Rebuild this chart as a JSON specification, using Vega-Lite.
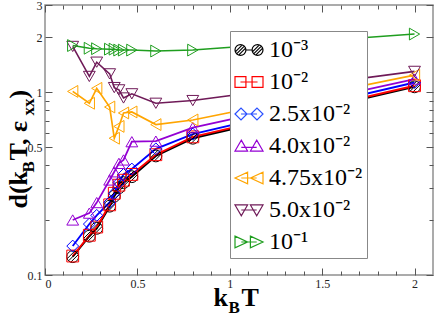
{
  "$schema": "https://vega.github.io/schema/vega-lite/v6.json",
  "width": 388,
  "height": 270,
  "autosize": {"type": "none"},
  "padding": {"left": 45, "top": 5, "right": 3, "bottom": 40},
  "background": "white",
  "config": {
    "view": {"stroke": "#909090", "strokeWidth": 1.5},
    "font": "Liberation Serif",
    "axis": {
      "grid": false, "domain": false, "tickColor": "#555", "tickWidth": 1,
      "labelFont": "Liberation Serif", "labelFontSize": 12, "labelColor": "#222",
      "titleFont": "Liberation Serif", "titleFontWeight": "bold", "titleColor": "black", "titleFontSize": 26,
      "titleAlign": "left", "titleBaseline": "alphabetic"
    },
    "legend": {"labelFont": "Liberation Serif", "labelFontSize": 24, "labelColor": "black"}
  },
  "datasets": {
    "d": [
      {"eps": "10⁻³", "T": 0.15, "d": 0.126}, {"eps": "10⁻³", "T": 0.24, "d": 0.163}, {"eps": "10⁻³", "T": 0.28, "d": 0.18}, {"eps": "10⁻³", "T": 0.35, "d": 0.238}, {"eps": "10⁻³", "T": 0.375, "d": 0.27}, {"eps": "10⁻³", "T": 0.4, "d": 0.3}, {"eps": "10⁻³", "T": 0.425, "d": 0.32}, {"eps": "10⁻³", "T": 0.47, "d": 0.345}, {"eps": "10⁻³", "T": 0.6, "d": 0.448}, {"eps": "10⁻³", "T": 0.8, "d": 0.56}, {"eps": "10⁻³", "T": 2.0, "d": 1.07},
      {"eps": "10⁻²", "T": 0.15, "d": 0.127}, {"eps": "10⁻²", "T": 0.24, "d": 0.165}, {"eps": "10⁻²", "T": 0.28, "d": 0.183}, {"eps": "10⁻²", "T": 0.35, "d": 0.242}, {"eps": "10⁻²", "T": 0.375, "d": 0.28}, {"eps": "10⁻²", "T": 0.4, "d": 0.31}, {"eps": "10⁻²", "T": 0.425, "d": 0.33}, {"eps": "10⁻²", "T": 0.47, "d": 0.355}, {"eps": "10⁻²", "T": 0.6, "d": 0.455}, {"eps": "10⁻²", "T": 0.8, "d": 0.57}, {"eps": "10⁻²", "T": 2.0, "d": 1.085},
      {"eps": "2.5x10⁻²", "T": 0.15, "d": 0.144}, {"eps": "2.5x10⁻²", "T": 0.24, "d": 0.19}, {"eps": "2.5x10⁻²", "T": 0.28, "d": 0.212}, {"eps": "2.5x10⁻²", "T": 0.35, "d": 0.25}, {"eps": "2.5x10⁻²", "T": 0.375, "d": 0.28}, {"eps": "2.5x10⁻²", "T": 0.4, "d": 0.32}, {"eps": "2.5x10⁻²", "T": 0.425, "d": 0.355}, {"eps": "2.5x10⁻²", "T": 0.47, "d": 0.38}, {"eps": "2.5x10⁻²", "T": 0.6, "d": 0.49}, {"eps": "2.5x10⁻²", "T": 0.8, "d": 0.59}, {"eps": "2.5x10⁻²", "T": 2.0, "d": 1.13},
      {"eps": "4.0x10⁻²", "T": 0.15, "d": 0.2}, {"eps": "4.0x10⁻²", "T": 0.24, "d": 0.218}, {"eps": "4.0x10⁻²", "T": 0.28, "d": 0.249}, {"eps": "4.0x10⁻²", "T": 0.35, "d": 0.331}, {"eps": "4.0x10⁻²", "T": 0.375, "d": 0.367}, {"eps": "4.0x10⁻²", "T": 0.4, "d": 0.408}, {"eps": "4.0x10⁻²", "T": 0.425, "d": 0.426}, {"eps": "4.0x10⁻²", "T": 0.47, "d": 0.536}, {"eps": "4.0x10⁻²", "T": 0.6, "d": 0.54}, {"eps": "4.0x10⁻²", "T": 0.8, "d": 0.64}, {"eps": "4.0x10⁻²", "T": 2.0, "d": 1.18},
      {"eps": "4.75x10⁻²", "T": 0.15, "d": 1.01}, {"eps": "4.75x10⁻²", "T": 0.24, "d": 0.87}, {"eps": "4.75x10⁻²", "T": 0.28, "d": 1.05}, {"eps": "4.75x10⁻²", "T": 0.35, "d": 0.83}, {"eps": "4.75x10⁻²", "T": 0.375, "d": 0.56}, {"eps": "4.75x10⁻²", "T": 0.4, "d": 0.65}, {"eps": "4.75x10⁻²", "T": 0.425, "d": 0.77}, {"eps": "4.75x10⁻²", "T": 0.47, "d": 0.78}, {"eps": "4.75x10⁻²", "T": 0.6, "d": 0.665}, {"eps": "4.75x10⁻²", "T": 0.8, "d": 0.705}, {"eps": "4.75x10⁻²", "T": 2.0, "d": 1.24},
      {"eps": "5.0x10⁻²", "T": 0.15, "d": 1.78}, {"eps": "5.0x10⁻²", "T": 0.24, "d": 1.22}, {"eps": "5.0x10⁻²", "T": 0.28, "d": 1.46}, {"eps": "5.0x10⁻²", "T": 0.35, "d": 1.26}, {"eps": "5.0x10⁻²", "T": 0.375, "d": 1.06}, {"eps": "5.0x10⁻²", "T": 0.4, "d": 1.03}, {"eps": "5.0x10⁻²", "T": 0.425, "d": 0.93}, {"eps": "5.0x10⁻²", "T": 0.47, "d": 0.98}, {"eps": "5.0x10⁻²", "T": 0.6, "d": 0.87}, {"eps": "5.0x10⁻²", "T": 0.8, "d": 0.9}, {"eps": "5.0x10⁻²", "T": 2.0, "d": 1.3},
      {"eps": "10⁻¹", "T": 0.15, "d": 1.8}, {"eps": "10⁻¹", "T": 0.24, "d": 1.74}, {"eps": "10⁻¹", "T": 0.28, "d": 1.73}, {"eps": "10⁻¹", "T": 0.35, "d": 1.72}, {"eps": "10⁻¹", "T": 0.375, "d": 1.72}, {"eps": "10⁻¹", "T": 0.4, "d": 1.7}, {"eps": "10⁻¹", "T": 0.425, "d": 1.7}, {"eps": "10⁻¹", "T": 0.47, "d": 1.7}, {"eps": "10⁻¹", "T": 0.6, "d": 1.68}, {"eps": "10⁻¹", "T": 0.8, "d": 1.7}, {"eps": "10⁻¹", "T": 2.0, "d": 2.08}
    ]
  },
  "data": {"name": "d"},
  "layer": [
    {
      "mark": {"type": "line", "clip": true},
      "encoding": {
        "x": {"field": "T", "type": "quantitative", "scale": {"domain": [0, 2.1], "nice": false, "zero": false},
          "axis": {"orient": "bottom", "ticks": false, "values": [0, 0.5, 1, 1.5, 2], "format": "~g", "labelPadding": 3,
            "title": "k", "titleX": 168, "titleY": 30, "titleAngle": 0}},
        "y": {"field": "d", "type": "quantitative", "scale": {"type": "log", "domain": [0.1, 3], "nice": false},
          "axis": {"orient": "left", "ticks": false, "values": [0.1, 0.5, 1, 2, 3], "format": "~g", "labelPadding": 3,
            "title": "d(k", "titleX": -19, "titleY": 203, "titleAngle": -90}},
        "color": {"field": "eps", "type": "nominal",
          "scale": {"domain": ["10⁻³", "10⁻²", "2.5x10⁻²", "4.0x10⁻²", "4.75x10⁻²", "5.0x10⁻²", "10⁻¹"],
            "range": ["#000000", "#ff0000", "#0000ff", "#9400d3", "#ffa500", "#6f1a58", "#1f9e1f"]}, "legend": null},
        "strokeWidth": {"field": "eps", "type": "ordinal",
          "scale": {"domain": ["10⁻³", "10⁻²", "2.5x10⁻²", "4.0x10⁻²", "4.75x10⁻²", "5.0x10⁻²", "10⁻¹"],
            "range": [2, 1.5, 1, 1, 1, 1, 1]}, "legend": null}
      }
    },
    {
      "mark": {"type": "point", "filled": false, "opacity": 1, "size": 140, "strokeWidth": 1, "clip": true},
      "encoding": {
        "x": {"field": "T", "type": "quantitative", "scale": {"domain": [0, 2.1], "nice": false, "zero": false},
          "axis": {"orient": "bottom", "labels": false, "tickSize": -7, "values": [0, 0.5, 1, 1.5, 2],
            "title": "B", "titleFontSize": 17, "titleX": 183, "titleY": 37, "titleAngle": 0}},
        "y": {"field": "d", "type": "quantitative", "scale": {"type": "log", "domain": [0.1, 3], "nice": false},
          "axis": {"orient": "left", "labels": false, "tickSize": -7, "values": [0.1, 0.5, 1, 2, 3],
            "title": "B", "titleFontSize": 17, "titleX": -12, "titleY": 167, "titleAngle": -90}},
        "color": {"field": "eps", "type": "nominal",
          "scale": {"domain": ["10⁻³", "10⁻²", "2.5x10⁻²", "4.0x10⁻²", "4.75x10⁻²", "5.0x10⁻²", "10⁻¹"],
            "range": ["#000000", "#ff0000", "#0000ff", "#9400d3", "#ffa500", "#6f1a58", "#1f9e1f"]}, "legend": null},
        "shape": {"field": "eps", "type": "nominal",
          "scale": {"domain": ["10⁻³", "10⁻²", "2.5x10⁻²", "4.0x10⁻²", "4.75x10⁻²", "5.0x10⁻²", "10⁻¹"],
            "range": ["M1,0A1,1,0,1,1,-1,0A1,1,0,1,1,1,0Z M-0.707,0.707L0.707,-0.707 M-0.34,0.94L0.94,-0.34 M-0.94,0.34L0.34,-0.94", "square", "diamond", "triangle-up", "triangle-left", "triangle-down", "triangle-right"]}, "legend": null}
      }
    },
    {
      "transform": [{"filter": "false"}],
      "mark": {"type": "point", "opacity": 0},
      "encoding": {
        "x": {"field": "T", "type": "quantitative", "scale": {"domain": [0, 2.1], "nice": false, "zero": false},
          "axis": {"orient": "bottom", "labels": false, "tickSize": -4, "values": [0.1, 0.2, 0.3, 0.4, 0.6, 0.7, 0.8, 0.9, 1.1, 1.2, 1.3, 1.4, 1.6, 1.7, 1.8, 1.9],
            "title": "T", "titleX": 196, "titleY": 30, "titleAngle": 0}},
        "y": {"field": "d", "type": "quantitative", "scale": {"type": "log", "domain": [0.1, 3], "nice": false},
          "axis": {"orient": "left", "labels": false, "tickSize": -4, "values": [0.2, 0.3, 0.4, 0.6, 0.7, 0.8, 0.9],
            "title": "T, ε", "titleX": -19, "titleY": 155, "titleAngle": -90}}
      }
    },
    {
      "transform": [{"filter": "false"}],
      "mark": {"type": "point", "opacity": 0},
      "encoding": {
        "x": {"field": "T", "type": "quantitative", "scale": {"domain": [0, 2.1], "nice": false, "zero": false},
          "axis": {"orient": "top", "labels": false, "tickSize": -7, "values": [0, 0.5, 1, 1.5, 2], "title": null}},
        "y": {"field": "d", "type": "quantitative", "scale": {"type": "log", "domain": [0.1, 3], "nice": false},
          "axis": {"orient": "right", "labels": false, "tickSize": -7, "values": [0.1, 0.5, 1, 2, 3],
            "title": "xx", "titleFontSize": 17, "titleX": -400, "titleY": 110, "titleAngle": -90}}
      }
    },
    {
      "transform": [{"filter": "false"}],
      "mark": {"type": "point", "opacity": 0},
      "encoding": {
        "x": {"field": "T", "type": "quantitative", "scale": {"domain": [0, 2.1], "nice": false, "zero": false},
          "axis": {"orient": "top", "labels": false, "tickSize": -4, "values": [0.1, 0.2, 0.3, 0.4, 0.6, 0.7, 0.8, 0.9, 1.1, 1.2, 1.3, 1.4, 1.6, 1.7, 1.8, 1.9], "title": null}},
        "y": {"field": "d", "type": "quantitative", "scale": {"type": "log", "domain": [0.1, 3], "nice": false},
          "axis": {"orient": "right", "labels": false, "tickSize": -4, "values": [0.2, 0.3, 0.4, 0.6, 0.7, 0.8, 0.9],
            "title": ")", "titleX": -407, "titleY": 93, "titleAngle": -90}}
      }
    },
    {
      "transform": [{"filter": "false"}],
      "mark": {"type": "point", "filled": false, "opacity": 1, "strokeWidth": 1},
      "encoding": {
        "x": {"field": "T", "type": "quantitative", "scale": {"domain": [0, 2.1], "nice": false, "zero": false}, "axis": null},
        "y": {"field": "d", "type": "quantitative", "scale": {"type": "log", "domain": [0.1, 3], "nice": false}, "axis": null},
        "color": {"field": "eps", "type": "nominal",
          "scale": {"domain": ["10⁻³", "10⁻²", "2.5x10⁻²", "4.0x10⁻²", "4.75x10⁻²", "5.0x10⁻²", "10⁻¹"],
            "range": ["#000000", "#ff0000", "#2a50ff", "#9400d3", "#ffa500", "#6f1a58", "#1f9e1f"]},
          "legend": {"orient": "none", "legendX": 185, "legendY": 26, "title": null, "padding": 4, "fillColor": "white", "strokeColor": "#888",
            "labelFont": "Liberation Serif", "labelFontSize": 24, "labelColor": "black", "symbolSize": 784, "symbolStrokeWidth": 1.2,
            "labelOffset": 5, "rowPadding": 5, "labelLimit": 300}},
        "shape": {"field": "eps", "type": "nominal",
          "scale": {"domain": ["10⁻³", "10⁻²", "2.5x10⁻²", "4.0x10⁻²", "4.75x10⁻²", "5.0x10⁻²", "10⁻¹"],
            "range": [
              "M-0.22,0A0.39,0.39,0,1,1,-1,0A0.39,0.39,0,1,1,-0.22,0Z M1,0A0.39,0.39,0,1,1,0.22,0A0.39,0.39,0,1,1,1,0Z M-0.22,0L0.22,0 M-0.886,0.276L-0.334,-0.276 M-0.743,0.367L-0.243,-0.133 M-0.977,0.133L-0.477,-0.367 M0.334,0.276L0.886,-0.276 M0.477,0.367L0.977,-0.133 M0.243,0.133L0.743,-0.367",
              "M-1,-0.39H-0.22V0.39H-1Z M0.22,-0.39H1V0.39H0.22Z M-0.61,0H0.61",
              "M-1,0L-0.57,-0.43L-0.14,0L-0.57,0.43Z M0.14,0L0.57,-0.43L1,0L0.57,0.43Z M-0.57,0H0.57",
              "M-0.55,-0.42L-0.1,0.36L-1,0.36Z M0.55,-0.42L1,0.36L0.1,0.36Z M-0.55,0.1H0.55",
              "M-1,0L-0.1,-0.42L-0.1,0.42Z M0.1,0L1,-0.42L1,0.42Z M-0.55,0H0.55",
              "M-1,-0.36L-0.1,-0.36L-0.55,0.42Z M0.1,-0.36L1,-0.36L0.55,0.42Z M-0.55,0H0.55",
              "M-1,-0.42L-0.1,0L-1,0.42Z M0.1,-0.42L1,0L0.1,0.42Z M-0.55,0H0.55"
            ]},
          "legend": {"orient": "none", "legendX": 185, "legendY": 26, "title": null, "padding": 4, "fillColor": "white", "strokeColor": "#888",
            "labelFont": "Liberation Serif", "labelFontSize": 24, "labelColor": "black", "symbolSize": 784, "symbolStrokeWidth": 1.2,
            "labelOffset": 5, "rowPadding": 5, "labelLimit": 300}}
      }
    }
  ],
  "resolve": {"axis": {"x": "independent", "y": "independent"}, "scale": {"shape": "independent", "color": "independent"}}
}
